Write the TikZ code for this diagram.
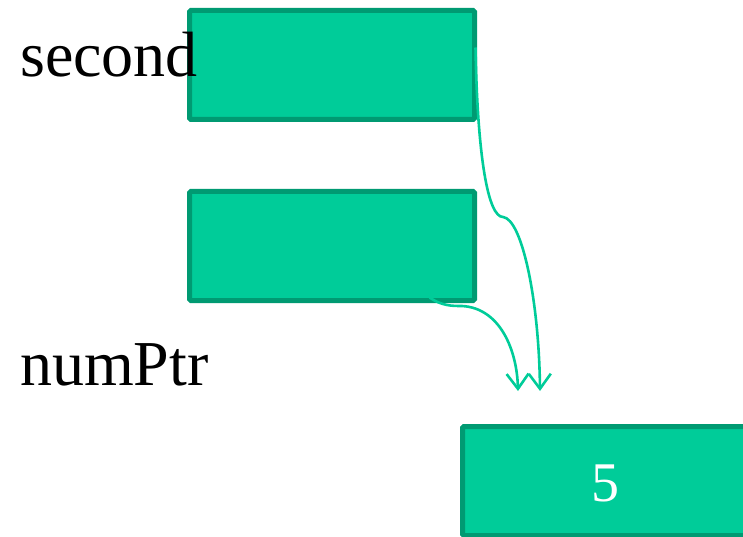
\documentclass[tikz,border=0pt]{standalone}
\usepackage{fontspec}
\setmainfont{Liberation Serif}
\usetikzlibrary{arrows.meta}
\definecolor{cellfill}{HTML}{00CC99}
\definecolor{cellline}{HTML}{009A72}
\tikzset{
  cell/.style={draw=cellline, fill=cellfill, line width=5pt, rounded corners=1.5pt,
    inner sep=0pt, outer sep=0pt, minimum width=285pt, minimum height=109pt,
    anchor=north west},
  varname/.style={anchor=base west, inner sep=0pt, font=\fontsize{64}{64}\selectfont},
  pointer/.style={draw=cellfill, line width=2.6pt,
    -{Straight Barb[length=15pt,width=22pt,line width=2.6pt]}}
}
\begin{document}
\begin{tikzpicture}[x=1pt, y=-1pt]
\useasboundingbox (0,0) rectangle (743,537);
\clip (0,0) rectangle (743,537);
% memory cells
\node[cell] (second) at (189.5,10.5) {};
\node[cell] (numptr) at (189.5,191.5) {};
\node[cell] (target) at (462.5,426.5) {};
\node[font=\fontsize{56}{56}\selectfont, text=white] (five) at (605,483) {5};
% variable names
\node[varname] (lblsecond) at (20,77) {second};
\node[varname] (lblnumptr) at (20,385) {numPtr};
% arrow end points above the target cell
\coordinate (tipA) at (540,391);
\coordinate (tipB) at (518,391);
% pointers
\draw[pointer] ([xshift=1pt,yshift=-37pt]second.north east)
  .. controls +(2,110) and (488,217) .. (503,217)
  .. controls (522,219) and (539,300) .. (tipA);
\draw[pointer] ([xshift=-45pt,yshift=3pt]numptr.south east)
  .. controls (442,306) and (452,306) .. (462,306)
  .. controls (500,308) and (517,350) .. (tipB);
\end{tikzpicture}
\end{document}
